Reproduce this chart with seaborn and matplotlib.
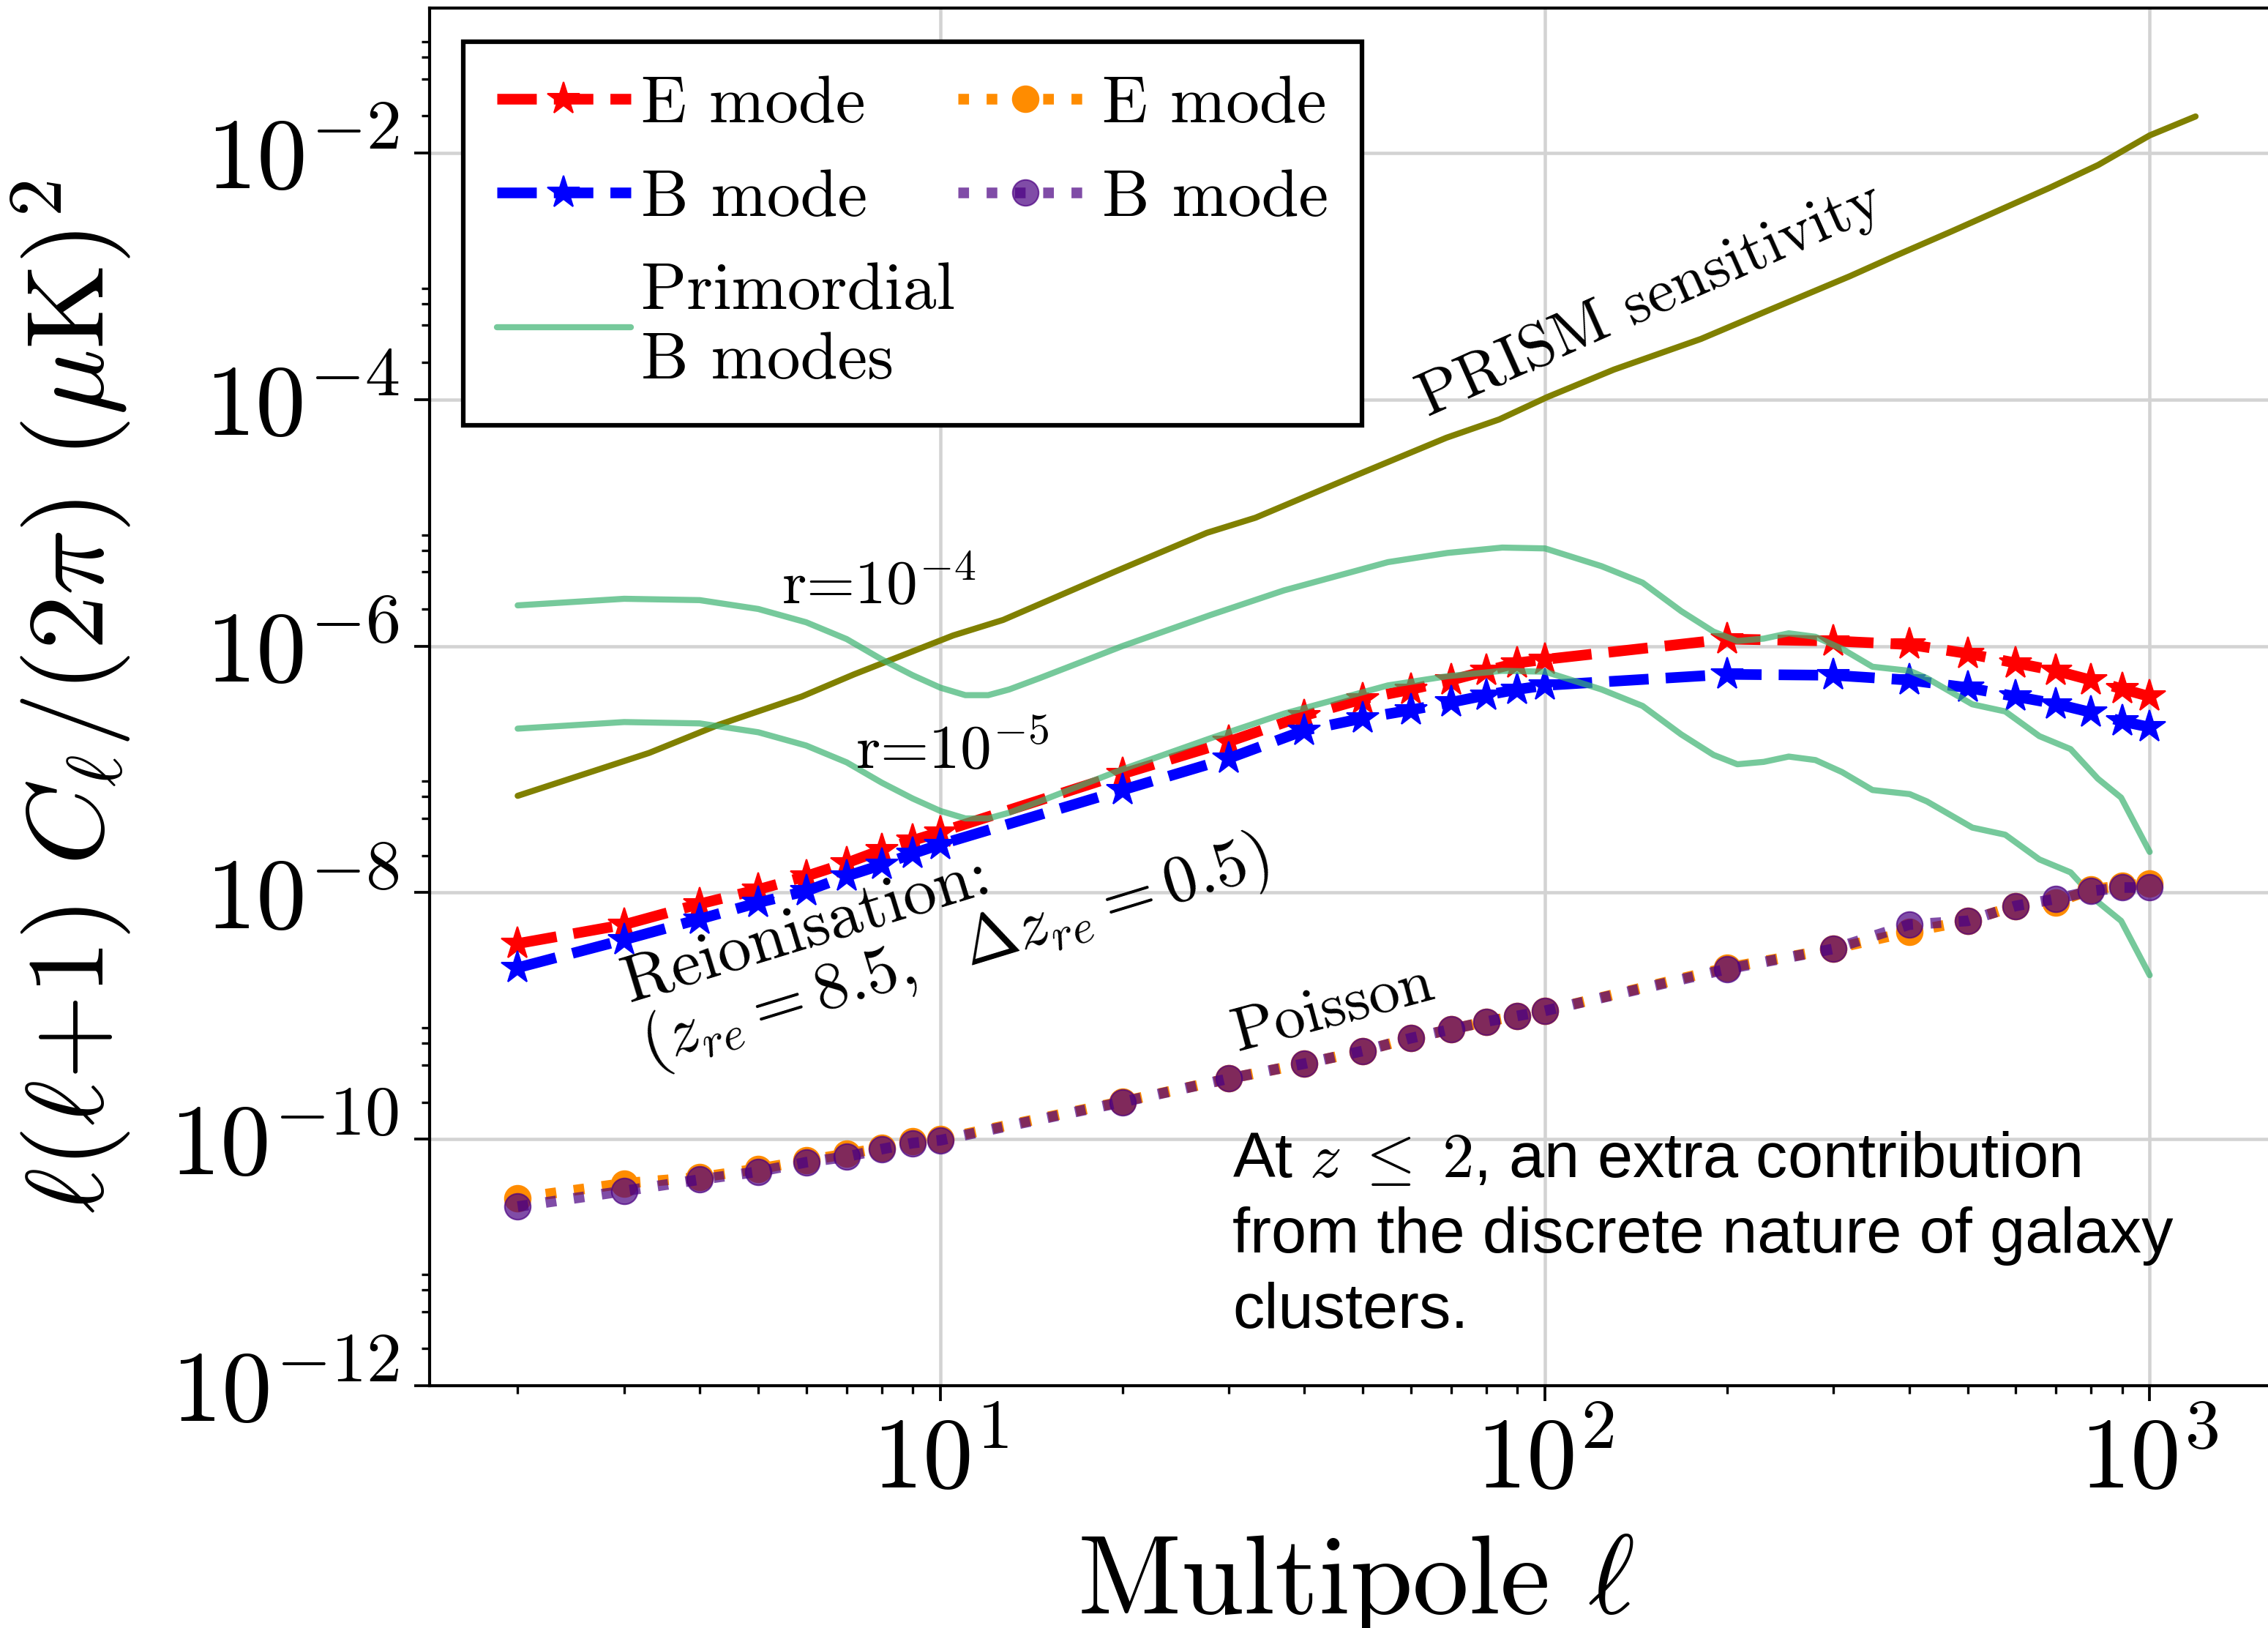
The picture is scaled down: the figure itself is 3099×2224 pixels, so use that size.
import numpy as np
import matplotlib
matplotlib.use("Agg")
import matplotlib.pyplot as plt
import seaborn as sns

# ---------------- data ----------------
ell_reion = [2, 3, 4, 5, 6, 7, 8, 9, 10, 20, 30, 40, 50, 60, 70, 80, 90, 100,
             200, 300, 400, 500, 600, 700, 800, 900, 1000]
ee_reion = [3.86e-9, 5.5e-9, 8.1e-9, 1.06e-8, 1.36e-8, 1.74e-8, 2.22e-8, 2.65e-8, 3.1e-8,
            9.2e-8, 1.68e-7, 2.73e-7, 3.73e-7, 4.45e-7, 5.3e-7, 6.3e-7, 7.3e-7, 7.8e-7,
            1.14e-6, 1.10e-6, 1.03e-6, 8.7e-7, 7.3e-7, 6.3e-7, 5.3e-7, 4.5e-7, 3.9e-7]
bb_reion = [2.46e-9, 4.15e-9, 6.1e-9, 8.3e-9, 1.03e-8, 1.36e-8, 1.68e-8, 2.07e-8, 2.46e-8,
            6.8e-8, 1.23e-7, 2.07e-7, 2.6e-7, 3.03e-7, 3.5e-7, 4.0e-7, 4.45e-7, 4.8e-7,
            5.9e-7, 5.8e-7, 5.3e-7, 4.6e-7, 3.9e-7, 3.4e-7, 2.9e-7, 2.45e-7, 2.2e-7]

ell_pois = ell_reion
ee_pois = [3.33e-11, 4.38e-11, 4.9e-11, 5.75e-11, 6.7e-11, 7.6e-11, 8.5e-11, 9.6e-11, 1.0e-10,
           2.02e-10, 3.1e-10, 4.1e-10, 5.2e-10, 6.6e-10, 7.8e-10, 9.0e-10, 1.0e-9, 1.1e-9,
           2.46e-9, 3.5e-9, 4.8e-9, 5.9e-9, 7.8e-9, 8.3e-9, 1.06e-8, 1.14e-8, 1.18e-8]
bb_pois = [2.84e-11, 3.8e-11, 4.7e-11, 5.45e-11, 6.5e-11, 7.2e-11, 8.3e-11, 9.3e-11, 9.8e-11,
           2.0e-10, 3.1e-10, 4.1e-10, 5.2e-10, 6.6e-10, 7.8e-10, 9.0e-10, 1.0e-9, 1.1e-9,
           2.4e-9, 3.5e-9, 5.5e-9, 5.9e-9, 7.8e-9, 8.9e-9, 1.03e-8, 1.1e-8, 1.1e-8]

ell_prim = [2, 3, 4, 5, 6, 7, 8, 9, 10, 11, 12, 13, 14.6, 20, 28, 37, 55, 69, 85, 100,
            124, 145, 168, 190, 208, 230, 253, 280, 310, 348, 401, 428, 509, 577, 657,
            740, 821, 897, 1000]
bb_prim_r4 = [2.14e-6, 2.42e-6, 2.36e-6, 2.0e-6, 1.56e-6, 1.14e-6, 7.8e-7, 5.8e-7, 4.6e-7,
              4.0e-7, 4.0e-7, 4.45e-7, 5.5e-7, 1.0e-6, 1.79e-6, 2.83e-6, 4.8e-6, 5.7e-6,
              6.3e-6, 6.2e-6, 4.45e-6, 3.27e-6, 1.92e-6, 1.31e-6, 1.10e-6, 1.15e-6, 1.27e-6,
              1.19e-6, 9.5e-7, 6.8e-7, 6.3e-7, 5.5e-7, 3.37e-7, 2.95e-7, 1.86e-7, 1.46e-7,
              8.4e-8, 5.9e-8, 2.14e-8]
bb_prim_r5 = [2.14e-7, 2.42e-7, 2.36e-7, 2.0e-7, 1.56e-7, 1.14e-7, 7.8e-8, 5.8e-8, 4.6e-8,
              4.0e-8, 4.0e-8, 4.45e-8, 5.5e-8, 1.0e-7, 1.79e-7, 2.83e-7, 4.8e-7, 5.7e-7,
              6.3e-7, 6.2e-7, 4.45e-7, 3.27e-7, 1.92e-7, 1.31e-7, 1.10e-7, 1.15e-7, 1.27e-7,
              1.19e-7, 9.5e-8, 6.8e-8, 6.3e-8, 5.5e-8, 3.37e-8, 2.95e-8, 1.86e-8, 1.46e-8,
              8.4e-9, 5.9e-9, 2.14e-9]

ell_prism = [2, 3.3, 4.3, 5.9, 7.2, 10.5, 12.7, 19.4, 27.6, 33.2, 48.4, 68.7, 84, 101, 130,
             181, 230, 319, 379, 469, 682, 822, 1000, 1191]
prism_sens = [6.1e-8, 1.36e-7, 2.3e-7, 3.9e-7, 5.9e-7, 1.22e-6, 1.63e-6, 4.0e-6, 8.3e-6,
              1.1e-5, 2.4e-5, 4.9e-5, 6.9e-5, 1.05e-4, 1.75e-4, 3.1e-4, 5.1e-4, 1.0e-3,
              1.46e-3, 2.3e-3, 5.2e-3, 8.0e-3, 1.39e-2, 1.98e-2]

legend_labels = ["E mode", "B mode", "Primordial\nB modes", "E mode", "B mode"]

# ---------------- style ----------------
sns.set_theme(style="ticks")
plt.rcParams.update({
    "font.family": "serif",
    "font.serif": ["cmr10"],
    "mathtext.fontset": "cm",
    "axes.formatter.use_mathtext": True,
    "axes.unicode_minus": True,
    "axes.edgecolor": "black",
    "axes.linewidth": 1.0,
    "xtick.color": "black",
    "ytick.color": "black",
    "text.color": "black",
    "axes.labelcolor": "black",
})

W, H = 3099, 2224
fig = plt.figure(figsize=(W / 300, H / 300), dpi=300)
ax = fig.add_axes([587 / W, 1 - 1893 / H, (3117 - 587) / W, (1893 - 11) / H])
ax.set_xscale("log")
ax.set_yscale("log")

sns.lineplot(x=ell_prism, y=prism_sens, color="olive", lw=2.0, ax=ax, legend=False)
sns.lineplot(x=ell_reion, y=ee_reion, color="red", linestyle="--", lw=3.5,
             marker="*", markersize=11, markeredgecolor="red", markeredgewidth=0.5,
             label=legend_labels[0], ax=ax, legend=False)
sns.lineplot(x=ell_reion, y=bb_reion, color="blue", linestyle="--", lw=3.5,
             marker="*", markersize=11, markeredgecolor="blue", markeredgewidth=0.5,
             label=legend_labels[1], ax=ax, legend=False)
sns.lineplot(x=ell_prim, y=bb_prim_r4, color="mediumseagreen", alpha=0.7, lw=2.0,
             label=legend_labels[2], ax=ax, legend=False)
sns.lineplot(x=ell_prim, y=bb_prim_r5, color="mediumseagreen", alpha=0.7, lw=2.0,
             ax=ax, legend=False)
sns.lineplot(x=ell_pois, y=ee_pois, color="darkorange", linestyle=":", lw=3.5,
             marker="o", markersize=8.5, markeredgecolor="darkorange", markeredgewidth=0.5,
             label=legend_labels[3], ax=ax, legend=False)
sns.lineplot(x=ell_pois, y=bb_pois, color="indigo", alpha=0.7, linestyle=":", lw=3.5,
             marker="o", markersize=8.5, markeredgecolor="indigo", markeredgewidth=0.5,
             label=legend_labels[4], ax=ax, legend=False)

ax.set_xlim(1.43, 1650)
ax.set_ylim(1e-12, 0.15)

major_y = [10.0 ** e for e in range(-12, 0, 2)]
minor_y = [s * 10.0 ** e for e in range(-12, 0, 2) for s in (2, 4, 6, 8)]
ax.set_yticks(major_y)
ax.set_yticks(minor_y, minor=True)
ax.yaxis.set_minor_formatter(matplotlib.ticker.NullFormatter())

ax.grid(True, which="major", color="lightgray", lw=1.1)
ax.grid(False, which="minor")
ax.set_axisbelow(True)
ax.tick_params(which="major", length=5, width=0.9, labelsize=33, pad=5, direction="out")
ax.tick_params(which="minor", length=2.6, width=0.8, direction="out")
for s in ax.spines.values():
    s.set_color("black")
    s.set_linewidth(1.0)

ax.set_xlabel(r"Multipole $\ell$", fontsize=37, labelpad=8)
ax.set_ylabel(r"$\ell(\ell{+}1)\ C_\ell/(2\pi)\ (\mu\mathrm{K})^2$", fontsize=36, labelpad=12)

handles, labels = ax.get_legend_handles_labels()
leg = ax.legend(handles, labels, ncol=2, loc="upper left", fontsize=22, frameon=True,
                fancybox=False, edgecolor="black", framealpha=1, handletextpad=0.15,
                columnspacing=0.05, borderaxespad=0.5, labelspacing=0.5, borderpad=0.5)
leg.get_frame().set_linewidth(1.5)
for t in leg.get_texts():
    t.set_linespacing(1.2)

# annotations
ax.text(5.46, 2.21e-6, r"r=$10^{-4}$", fontsize=20.5, ha="left", va="baseline")
ax.text(7.24, 1.01e-7, r"r=$10^{-5}$", fontsize=20.5, ha="left", va="baseline")
ax.text(64, 7.2e-5, "PRISM sensitivity", fontsize=20.5, rotation=24,
        rotation_mode="anchor", ha="left", va="baseline")
ax.text(3.29, 4.05e-10, "Reionisation:\n" + r"$(z_{re}=8.5,\ \ \Delta z_{re}=0.5)$",
        fontsize=22, rotation=17, rotation_mode="anchor", ha="left", va="baseline",
        linespacing=1.0)
ax.text(31, 5.2e-10, "Poisson", fontsize=20.5, rotation=15, rotation_mode="anchor",
        ha="left", va="baseline")
fig.text(1684 / W, 1 - 1545 / H,
         "At $z\\;\\leq\\;2$, an extra contribution\nfrom the discrete nature of galaxy\nclusters.",
         fontsize=20.8, family="Liberation Sans", ha="left", va="top", linespacing=1.35)

fig.savefig("out.png", dpi=300)
